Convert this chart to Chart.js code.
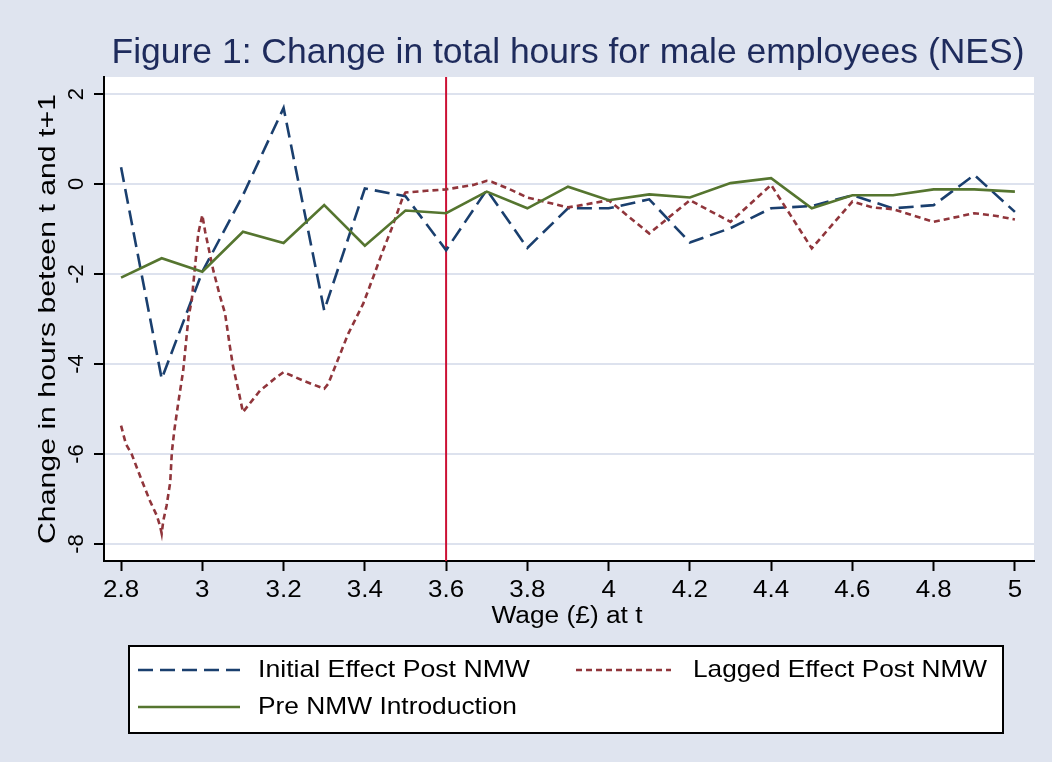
<!DOCTYPE html>
<html>
<head>
<meta charset="utf-8">
<title>Change in total hours for male employees (NES)</title>
<script src="https://cdn.jsdelivr.net/npm/chart.js@4.4.1/dist/chart.umd.min.js"></script>
<style>
  html, body { margin: 0; padding: 0; background: #dfe4ef; }
  canvas { display: block; }
</style>
</head>
<body>
<canvas id="chart" width="1052" height="762" style="width:1052px;height:762px"></canvas>
<script>
// Hourly wage at t (pounds), common grid for the first and third series
const wages = [2.8, 2.9, 3.0, 3.1, 3.2, 3.3, 3.4, 3.5, 3.6, 3.7, 3.8, 3.9,
               4.0, 4.1, 4.2, 4.3, 4.4, 4.5, 4.6, 4.7, 4.8, 4.9, 5.0];

// Change in hours between t and t+1
const initialEffect = [0.37, -4.33, -1.95, -0.25, 1.69, -2.81, -0.10, -0.27, -1.47, -0.13, -1.42, -0.54,
                       -0.54, -0.34, -1.30, -0.98, -0.54, -0.49, -0.25, -0.54, -0.47, 0.20, -0.62];
const preNMW = [-2.08, -1.65, -1.95, -1.06, -1.31, -0.47, -1.37, -0.59, -0.65, -0.17, -0.54, -0.06,
                -0.36, -0.23, -0.30, 0.02, 0.13, -0.54, -0.25, -0.25, -0.12, -0.12, -0.17];

// Lagged effect is traced on a finer wage grid
const laggedWage = [2.800, 2.812, 2.826, 2.851, 2.871, 2.888, 2.896, 2.900, 2.904, 2.912, 2.921, 2.925,
                    2.931, 2.941, 2.953, 2.966, 2.974, 2.982, 2.990, 3.000, 3.007, 3.027, 3.044, 3.056,
                    3.068, 3.076, 3.089, 3.100, 3.142, 3.183, 3.200, 3.248, 3.300, 3.310, 3.359, 3.396,
                    3.421, 3.445, 3.466, 3.494, 3.500, 3.552, 3.600, 3.667, 3.700, 3.712, 3.760, 3.800,
                    3.900, 3.933, 4.000, 4.100, 4.200, 4.300, 4.400, 4.500, 4.600, 4.650, 4.700, 4.800,
                    4.900, 4.955, 5.000];
const laggedEffect = [-5.37, -5.78, -6.00, -6.59, -7.04, -7.37, -7.60, -7.77, -7.48, -7.15, -6.63, -5.96,
                      -5.48, -4.85, -4.14, -2.96, -2.58, -1.84, -1.10, -0.69, -1.06, -1.92, -2.51, -2.88,
                      -3.62, -4.07, -4.59, -5.07, -4.59, -4.29, -4.18, -4.37, -4.55, -4.44, -3.33, -2.66,
                      -2.06, -1.47, -0.99, -0.28, -0.19, -0.15, -0.12, -0.02, 0.07, 0.05, -0.13, -0.30,
                      -0.52, -0.47, -0.36, -1.10, -0.36, -0.84, -0.02, -1.43, -0.39, -0.52, -0.56, -0.84,
                      -0.65, -0.71, -0.79];

// Axis ticks
const xTickValues = [2.8, 3.0, 3.2, 3.4, 3.6, 3.8, 4.0, 4.2, 4.4, 4.6, 4.8, 5.0];
const xTickLabels = ['2.8', '3', '3.2', '3.4', '3.6', '3.8', '4', '4.2', '4.4', '4.6', '4.8', '5'];
const yTickValues = [-8, -6, -4, -2, 0, 2];
const yTickLabels = ['-8', '-6', '-4', '-2', '0', '2'];

// National Minimum Wage level marked on the x axis
const nmwWage = 3.6;

const seriesNames = ['Initial Effect Post NMW', 'Lagged Effect Post NMW', 'Pre NMW Introduction'];

const COLORS = {
  page: '#dfe4ef',
  plot: '#ffffff',
  grid: '#dde2ee',
  axis: '#000000',
  title: '#1e2b5c',
  blue: '#1a3f6e',
  red: '#90353b',
  green: '#55752f',
  nmw: '#cc1034'
};
const FONT = '"Liberation Sans", Arial, sans-serif';
const BLUE_DASH = [15, 7];
const RED_DASH = [6, 4];

// Draw a centred string, stretched horizontally by a factor or to a width
function drawText(ctx, str, x, y, size, opts) {
  opts = opts || {};
  ctx.save();
  ctx.translate(x, y);
  if (opts.rotate) ctx.rotate(opts.rotate);
  ctx.font = size + 'px ' + FONT;
  const natural = ctx.measureText(str).width;
  let sx = opts.stretch || 1;
  if (opts.width) sx = opts.width / natural;
  ctx.scale(sx, 1);
  ctx.textAlign = 'center';
  ctx.textBaseline = 'middle';
  ctx.fillStyle = opts.color || '#000';
  ctx.fillText(str, 0, 0);
  ctx.restore();
}

const decor = {
  id: 'decor',
  beforeDraw(chart) {
    const { ctx, chartArea: a } = chart;
    ctx.save();
    ctx.fillStyle = COLORS.page;
    ctx.fillRect(0, 0, chart.width, chart.height);
    ctx.fillStyle = COLORS.plot;
    ctx.fillRect(a.left, a.top, a.right - a.left, a.bottom - a.top);
    ctx.restore();
  },
  beforeDatasetsDraw(chart) {
    const { ctx, chartArea: a, scales } = chart;
    const px = scales.x.getPixelForValue(nmwWage);
    ctx.save();
    ctx.strokeStyle = COLORS.nmw;
    ctx.lineWidth = 2;
    ctx.beginPath();
    ctx.moveTo(px, a.top);
    ctx.lineTo(px, a.bottom);
    ctx.stroke();
    ctx.restore();
  },
  afterDraw(chart) {
    const { ctx, chartArea: a, scales } = chart;

    // Title
    drawText(ctx, 'Figure 1: Change in total hours for male employees (NES)', 568, 53, 35,
             { width: 913, color: COLORS.title });

    // Y tick labels, rotated
    yTickValues.forEach((v, i) => {
      drawText(ctx, yTickLabels[i], 77, scales.y.getPixelForValue(v), 22,
               { rotate: -Math.PI / 2, stretch: 1.0 });
    });
    // Y axis title
    drawText(ctx, 'Change in hours beteen t and t+1', 48, (a.top + a.bottom) / 2, 24,
             { rotate: -Math.PI / 2, width: 450 });

    // X tick labels
    xTickValues.forEach((v, i) => {
      drawText(ctx, xTickLabels[i], scales.x.getPixelForValue(v), 590, 24, { stretch: 1.08 });
    });
    // X axis title
    drawText(ctx, 'Wage (\u00A3) at t', 567, 617, 23, { width: 151 });

    // Legend
    ctx.save();
    ctx.fillStyle = '#ffffff';
    ctx.fillRect(129, 646, 874, 87);
    ctx.strokeStyle = '#000';
    ctx.lineWidth = 2;
    ctx.strokeRect(129, 646, 874, 87);
    const sample = (x1, x2, y, color, dash) => {
      ctx.save();
      ctx.strokeStyle = color;
      ctx.lineWidth = 2.5;
      ctx.setLineDash(dash);
      ctx.beginPath();
      ctx.moveTo(x1, y);
      ctx.lineTo(x2, y);
      ctx.stroke();
      ctx.restore();
    };
    sample(138, 240, 670, COLORS.blue, BLUE_DASH);
    sample(576, 671, 670, COLORS.red, RED_DASH);
    sample(138, 240, 707, COLORS.green, []);
    ctx.restore();
    drawText(ctx, seriesNames[0], 258 + 272 / 2, 670, 24, { width: 272 });
    drawText(ctx, seriesNames[1], 693 + 294 / 2, 670, 24, { width: 294 });
    drawText(ctx, seriesNames[2], 258 + 259 / 2, 707, 24, { width: 259 });
  }
};

new Chart(document.getElementById('chart'), {
  type: 'line',
  data: {
    datasets: [
      {
        label: seriesNames[0],
        data: wages.map((w, i) => ({ x: w, y: initialEffect[i] })),
        borderColor: COLORS.blue,
        borderWidth: 2.6,
        borderDash: BLUE_DASH,
        pointRadius: 0,
        tension: 0,
        fill: false,
        order: 3
      },
      {
        label: seriesNames[1],
        data: laggedWage.map((w, i) => ({ x: w, y: laggedEffect[i] })),
        borderColor: COLORS.red,
        borderWidth: 2.6,
        borderDash: RED_DASH,
        pointRadius: 0,
        tension: 0,
        fill: false,
        order: 2
      },
      {
        label: seriesNames[2],
        data: wages.map((w, i) => ({ x: w, y: preNMW[i] })),
        borderColor: COLORS.green,
        borderWidth: 2.6,
        pointRadius: 0,
        tension: 0,
        fill: false,
        order: 1
      }
    ]
  },
  options: {
    responsive: false,
    devicePixelRatio: 1,
    animation: false,
    layout: { padding: { left: 0, top: 77, right: 18, bottom: 191 } },
    plugins: {
      legend: { display: false },
      title: { display: false },
      tooltip: { enabled: false }
    },
    scales: {
      x: {
        type: 'linear',
        position: 'bottom',
        min: 2.758,
        max: 5.047,
        afterBuildTicks: s => { s.ticks = xTickValues.map(v => ({ value: v })); },
        afterFit: s => { s.height = 10; },
        ticks: { display: false },
        grid: {
          drawOnChartArea: false,
          drawTicks: true,
          tickLength: 10,
          tickColor: COLORS.axis,
          tickWidth: 2
        },
        border: { display: true, color: COLORS.axis, width: 2 }
      },
      y: {
        type: 'linear',
        min: -8.378,
        max: 2.378,
        afterBuildTicks: s => { s.ticks = yTickValues.map(v => ({ value: v })); },
        afterFit: s => { s.width = 104; },
        ticks: { display: false },
        grid: {
          color: COLORS.grid,
          lineWidth: 2,
          drawTicks: true,
          tickLength: 10,
          tickColor: COLORS.axis,
          tickWidth: 2
        },
        border: { display: true, color: COLORS.axis, width: 2 }
      }
    }
  },
  plugins: [decor]
});
</script>
</body>
</html>
